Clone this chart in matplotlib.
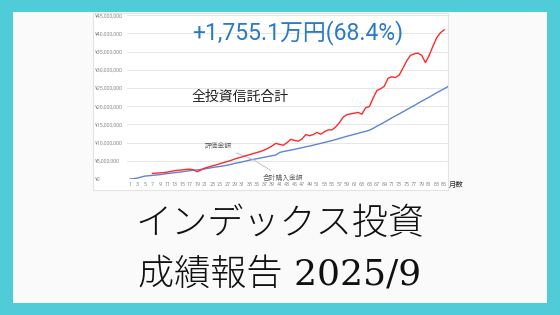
import matplotlib.pyplot as plt
from matplotlib.patches import Rectangle
from matplotlib.ticker import FuncFormatter

plt.rcParams['font.family'] = ['Roboto', 'Noto Sans CJK JP', 'DejaVu Sans']

# values in millions of yen
blue_months = list(range(1, 87))
blue_values = [0.0, 0.1, 0.25, 0.55, 0.8, 0.9, 1.0, 1.1, 1.2, 1.35,
               1.5, 1.6, 1.75, 1.85, 2.0, 2.15, 2.3, 2.4, 2.5, 2.65,
               2.8, 2.95, 3.15, 3.3, 3.45, 3.6, 3.8, 4.0, 4.3, 4.5,
               4.7, 4.95, 5.2, 5.4, 5.6, 5.8, 6.0, 6.2, 6.4, 6.6,
               7.3, 7.55, 7.75, 7.95, 8.15, 8.4, 8.6, 8.85, 9.05, 9.3,
               9.55, 9.8, 10.05, 10.3, 10.55, 10.85, 11.15, 11.45, 11.75, 12.0,
               12.3, 12.55, 12.85, 13.1, 13.4, 13.9, 14.5, 15.05, 15.6, 16.2,
               16.8, 17.35, 17.9, 18.5, 19.05, 19.65, 20.2, 20.8, 21.4, 21.95,
               22.5, 23.1, 23.7, 24.25, 24.8, 25.4]

red_months = list(range(7, 86))
red_values = [1.55, 1.6, 1.7, 1.75, 1.9, 2.1, 2.3, 2.4, 2.5, 2.65,
              2.7, 2.5, 2.0, 2.5, 3.0, 3.3, 3.6, 3.85, 4.2, 4.5,
              4.8, 5.1, 5.5, 5.8, 6.1, 6.4, 6.7, 7.0, 7.3, 7.6,
              8.0, 8.5, 9.1, 9.8, 9.5, 9.3, 10.0, 10.9, 10.6, 10.4,
              11.0, 12.2, 11.9, 12.2, 12.8, 12.3, 13.0, 13.5, 13.5, 14.3,
              15.5, 17.0, 17.7, 17.9, 18.1, 18.3, 17.8, 19.6, 19.9, 22.2,
              24.3, 24.8, 25.5, 27.7, 28.1, 27.9, 28.6, 30.5, 32.5, 34.0,
              34.4, 34.6, 34.0, 32.0, 34.0, 36.5, 38.8, 40.2, 41.0]

x_ticks = list(range(1, 86, 2))
y_ticks = [0, 5, 10, 15, 20, 25, 30, 35, 40, 45]

title = '+1,755.1万円(68.4%)'
subtitle = '全投資信託合計'
label_red = '評価金額'
label_blue = '合計購入金額'
line1 = 'インデックス投資'
line2 = '成績報告 2025/9'

cyan = '#50ccd8'

fig = plt.figure(figsize=(5.6, 3.15), dpi=100)
fig.patch.set_facecolor(cyan)

# inner panel and chart panel
fig.add_artist(Rectangle((13/560, 12/315), 534/560, 291/315, zorder=-3,
                         transform=fig.transFigure, facecolor='#fafafa', edgecolor='none'))
fig.add_artist(Rectangle((93/560, 125/315), 355/560, 177.5/315, zorder=-2,
                         transform=fig.transFigure, facecolor='white',
                         edgecolor='#e4e4e4', linewidth=0.8))

ax = fig.add_axes([127/560, 136/315, 321/560, 163.7/315])
ax.set_facecolor('none')
ax.plot(blue_months, blue_values, color='#5b86d8', linewidth=1.0, zorder=3)
ax.plot(red_months, red_values, color='#ff2a2a', linewidth=1.0, zorder=4)

ax.set_xlim(0.2, 86.03)
ax.set_ylim(0, 45)
ax.set_yticks(y_ticks)
ax.yaxis.set_major_formatter(FuncFormatter(lambda v, p: '¥{:,.0f}'.format(v * 1e6)))
ax.set_xticks(x_ticks)
ax.grid(axis='y', color='#e6e6e6', linewidth=0.7)
ax.set_axisbelow(True)
for s in ax.spines.values():
    s.set_visible(False)
ax.tick_params(axis='y', length=0, pad=23, labelsize=3.9, labelcolor='#8a8a8a')
ax.tick_params(axis='x', length=0, pad=2.5, labelsize=3.9, labelcolor='#8a8a8a')
for lab in ax.get_yticklabels():
    lab.set_horizontalalignment('left')

ax.text(1.004, -0.036, '月数', transform=ax.transAxes, fontsize=5.3,
        color='#333333', ha='left', va='center', family=['Noto Sans CJK JP'])

# data labels with leader lines
ax.annotate(label_red, xy=(34, 5.3), xytext=(28.3, 9.1), fontsize=4.9, color='#666666',
            ha='right', va='center', family=['Noto Sans CJK JP'],
            arrowprops=dict(arrowstyle='-', color='#bbbbbb', linewidth=0.6,
                            shrinkA=1, shrinkB=0))
ax.annotate(label_blue, xy=(34, 5.3), xytext=(36.4, 0.3), fontsize=4.9, color='#666666',
            ha='left', va='center', family=['Noto Sans CJK JP'],
            arrowprops=dict(arrowstyle='-', color='#bbbbbb', linewidth=0.6,
                            shrinkA=1, shrinkB=0))

fig.text(192/560, 1 - 33/315, title, fontsize=16.5, color='#2a7ac6', ha='left', va='center')
fig.text(192/560, 1 - 97/315, subtitle, fontsize=10, color='#222222', ha='left', va='center',
         family=['Noto Sans CJK JP'])

fig.text(0.5, 1 - 224/315, line1, fontsize=26, color='#111111', ha='center', va='center',
         family=['DejaVu Serif', 'Noto Sans CJK JP'], fontweight='light')
fig.text(0.5, 1 - 275/315, line2, fontsize=26, color='#111111', ha='center', va='center',
         family=['DejaVu Serif', 'Noto Sans CJK JP'], fontweight='light')

fig.savefig('out.png', dpi=100, facecolor=fig.get_facecolor())
